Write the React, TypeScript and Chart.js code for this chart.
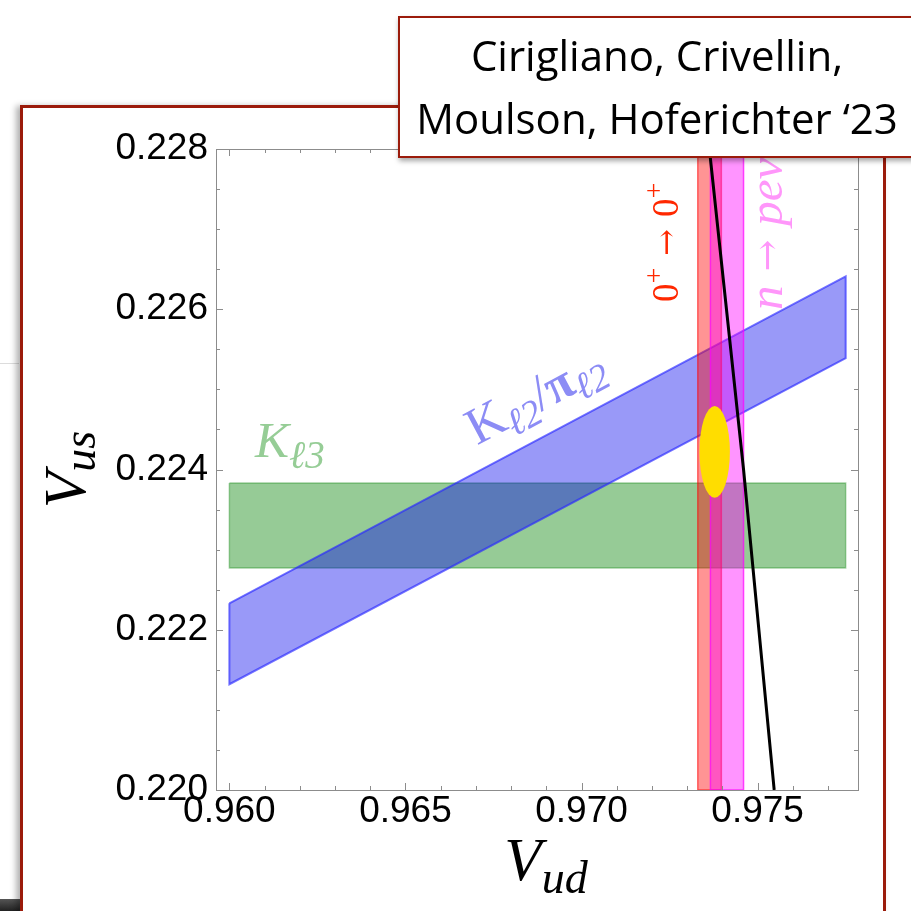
import React, { useEffect, useRef } from "react";
import { Chart, registerables } from "chart.js";

Chart.register(...registerables);

// ---------- data ----------
const xRange = [0.95962, 0.97785];
const yRange = [0.22, 0.228];
const xTickLabels = [0.96, 0.965, 0.97, 0.975];
const yTickLabels = [0.22, 0.222, 0.224, 0.226, 0.228];
const xMinorTicks = [0.96, 0.961, 0.962, 0.963, 0.964, 0.965, 0.966, 0.967, 0.968, 0.969, 0.97, 0.971, 0.972, 0.973, 0.974, 0.975, 0.976, 0.977];
const yMinorTicks = [0.22, 0.2205, 0.221, 0.2215, 0.222, 0.2225, 0.223, 0.2235, 0.224, 0.2245, 0.225, 0.2255, 0.226, 0.2265, 0.227, 0.2275, 0.228];

// K_l3 band (horizontal)
const kl3Vud = [0.96, 0.9775, 0.9775, 0.96, 0.96];
const kl3Vus = [0.22383, 0.22383, 0.22277, 0.22277, 0.22383];
// K_l2 / pi_l2 band (slanted)
const kl2Vud = [0.96, 0.9775, 0.9775, 0.96, 0.96];
const kl2Vus = [0.22233, 0.22641, 0.22539, 0.22132, 0.22233];
// 0+ -> 0+ band (vertical)
const superVud = [0.9733, 0.97397, 0.97397, 0.9733, 0.9733];
const superVus = [0.22, 0.22, 0.228, 0.228, 0.22];
// neutron decay band (vertical)
const neutronVud = [0.97366, 0.9746, 0.9746, 0.97366, 0.97366];
const neutronVus = [0.22, 0.22, 0.228, 0.228, 0.22];
// unitarity line
const unitVud = [0.97363, 0.9746, 0.97547];
const unitVus = [0.228, 0.224, 0.22];
// fit ellipse
const ellipseCenter = [0.97378, 0.22422];
const ellipseRadii = [0.000432, 0.000574];

// label anchors (data coords)
const labelKl3At = [0.96073, 0.22415];
const labelKl2At = [0.96703, 0.2243];
const label00At = [0.97275, 0.22609];
const labelNAt = [0.9757, 0.22599];

const pts = (xs: number[], ys: number[]) => xs.map((x, i) => ({ x, y: ys[i] }));

const SERIF = "'Liberation Serif', 'DejaVu Serif', serif";
const ARROWF = "'DejaVu Serif', 'Liberation Serif', serif";
const SANS = "'Liberation Sans', Arial, sans-serif";

type Run = { text: string; font: string; dy?: number; gap?: number };

function runsWidth(ctx: CanvasRenderingContext2D, runs: Run[]) {
  let w = 0;
  for (const r of runs) {
    ctx.font = r.font;
    w += ctx.measureText(r.text).width + (r.gap || 0);
  }
  return w;
}

function drawRuns(ctx: CanvasRenderingContext2D, runs: Run[], x: number, y: number, angle: number, color: string, center = false) {
  ctx.save();
  ctx.translate(x, y);
  ctx.rotate(angle);
  ctx.fillStyle = color;
  ctx.textBaseline = "alphabetic";
  ctx.textAlign = "left";
  let cx = center ? -runsWidth(ctx, runs) / 2 : 0;
  for (const r of runs) {
    ctx.font = r.font;
    ctx.fillText(r.text, cx, r.dy || 0);
    cx += ctx.measureText(r.text).width + (r.gap || 0);
  }
  ctx.restore();
}

const near = (a: number, b: number) => Math.abs(a - b) < 1e-9;

const overlayPlugin = {
  id: "overlay",
  afterDatasetDraw(chart: any, args: any) {
    if (args.index !== 3) return;
    const ctx = chart.ctx as CanvasRenderingContext2D;
    const xs = chart.scales.x;
    const ys = chart.scales.y;
    const cx = xs.getPixelForValue(ellipseCenter[0]);
    const cy = ys.getPixelForValue(ellipseCenter[1]);
    const rx = Math.abs(xs.getPixelForValue(ellipseCenter[0] + ellipseRadii[0]) - cx);
    const ry = Math.abs(ys.getPixelForValue(ellipseCenter[1] + ellipseRadii[1]) - cy);
    ctx.save();
    ctx.fillStyle = "rgb(255,221,0)";
    ctx.beginPath();
    ctx.ellipse(cx, cy, rx, ry, 0, 0, Math.PI * 2);
    ctx.fill();
    ctx.restore();
  },
  afterDatasetsDraw(chart: any) {
    const ctx = chart.ctx as CanvasRenderingContext2D;
    const xs = chart.scales.x;
    const ys = chart.scales.y;
    const { left, right, top, bottom } = chart.chartArea;

    // frame
    ctx.save();
    ctx.strokeStyle = "#8c8c8c";
    ctx.lineWidth = 1;
    ctx.strokeRect(Math.round(left) + 0.5, Math.round(top) + 0.5, Math.round(right - left), Math.round(bottom - top));
    ctx.beginPath();
    for (const v of xMinorTicks) {
      const px = Math.round(xs.getPixelForValue(v)) + 0.5;
      const len = xTickLabels.some((t) => near(t, v)) ? 7 : 4;
      ctx.moveTo(px, bottom);
      ctx.lineTo(px, bottom - len);
      ctx.moveTo(px, top);
      ctx.lineTo(px, top + len);
    }
    for (const v of yMinorTicks) {
      const py = Math.round(ys.getPixelForValue(v)) + 0.5;
      const len = yTickLabels.some((t) => near(t, v)) ? 7 : 4;
      ctx.moveTo(left, py);
      ctx.lineTo(left + len, py);
      ctx.moveTo(right, py);
      ctx.lineTo(right - len, py);
    }
    ctx.stroke();
    ctx.restore();

    // band labels
    drawRuns(
      ctx,
      [
        { text: "K", font: `italic 51px ${SERIF}` },
        { text: "ℓ3", font: `italic 39px ${SERIF}`, dy: 11 },
      ],
      xs.getPixelForValue(labelKl3At[0]),
      ys.getPixelForValue(labelKl3At[1]),
      0,
      "rgb(150,205,150)"
    );

    const a1x = xs.getPixelForValue(kl2Vud[0]);
    const a1y = ys.getPixelForValue(kl2Vus[0]);
    const a2x = xs.getPixelForValue(kl2Vud[1]);
    const a2y = ys.getPixelForValue(kl2Vus[1]);
    const ang = Math.atan2(a2y - a1y, a2x - a1x);
    drawRuns(
      ctx,
      [
        { text: "K", font: `52px ${SERIF}` },
        { text: "ℓ2", font: `italic 38px ${SERIF}`, dy: 10 },
        { text: "/", font: `52px ${SERIF}` },
        { text: "π", font: `bold 50px ${SERIF}` },
        { text: "ℓ2", font: `italic 38px ${SERIF}`, dy: 10 },
      ],
      xs.getPixelForValue(labelKl2At[0]),
      ys.getPixelForValue(labelKl2At[1]),
      ang,
      "rgb(140,140,245)"
    );

    drawRuns(
      ctx,
      [
        { text: "0", font: `37px ${SERIF}` },
        { text: "+", font: `28px ${SERIF}`, dy: -15, gap: 12 },
        { text: "→", font: `32px ${ARROWF}`, dy: -1, gap: 12 },
        { text: "0", font: `37px ${SERIF}` },
        { text: "+", font: `28px ${SERIF}`, dy: -15 },
      ],
      xs.getPixelForValue(label00At[0]),
      ys.getPixelForValue(label00At[1]),
      -Math.PI / 2,
      "rgb(255,40,0)"
    );

    drawRuns(
      ctx,
      [
        { text: "n", font: `italic 49px ${SERIF}`, gap: 14 },
        { text: "→", font: `38px ${ARROWF}`, dy: -2, gap: 14 },
        { text: "peν", font: `italic 49px ${SERIF}` },
      ],
      xs.getPixelForValue(labelNAt[0]),
      ys.getPixelForValue(labelNAt[1]),
      -Math.PI / 2,
      "rgb(255,150,250)"
    );

    // axis titles
    const cxArea = (left + right) / 2;
    const cyArea = (top + bottom) / 2;
    drawRuns(
      ctx,
      [
        { text: "V", font: `italic 61px ${SERIF}` },
        { text: "ud", font: `italic 46px ${SERIF}`, dy: 13 },
      ],
      cxArea + 9,
      bottom + 90,
      0,
      "#000",
      true
    );
    drawRuns(
      ctx,
      [
        { text: "V", font: `italic 60px ${SERIF}` },
        { text: "us", font: `italic 46px ${SERIF}`, dy: 10 },
      ],
      left - 131,
      cyArea,
      -Math.PI / 2,
      "#000",
      true
    );
  },
};

export default function App() {
  const ref = useRef<HTMLCanvasElement | null>(null);

  useEffect(() => {
    if (!ref.current) return;
    const tickFont = { family: SANS, size: 37 };
    const chart = new Chart(ref.current, {
      type: "scatter",
      data: {
        datasets: [
          {
            label: "Kl3",
            data: pts(kl3Vud, kl3Vus),
            showLine: true,
            fill: "shape",
            backgroundColor: "rgba(0,128,0,0.41)",
            borderColor: "rgba(0,128,0,0.35)",
            borderWidth: 1.5,
            pointRadius: 0,
            order: 5,
          },
          {
            label: "Kl2/pil2",
            data: pts(kl2Vud, kl2Vus),
            showLine: true,
            fill: "shape",
            backgroundColor: "rgba(0,0,237,0.4)",
            borderColor: "rgba(40,40,255,0.65)",
            borderWidth: 2,
            pointRadius: 0,
            order: 4,
          },
          {
            label: "0+ -> 0+",
            data: pts(superVud, superVus),
            showLine: true,
            fill: "shape",
            backgroundColor: "rgba(255,0,0,0.42)",
            borderColor: "rgba(255,0,0,0.55)",
            borderWidth: 1.5,
            pointRadius: 0,
            order: 3,
          },
          {
            label: "n -> pev",
            data: pts(neutronVud, neutronVus),
            showLine: true,
            fill: "shape",
            backgroundColor: "rgba(255,0,255,0.42)",
            borderColor: "rgba(255,0,255,0.7)",
            borderWidth: 1.5,
            pointRadius: 0,
            order: 2,
          },
          {
            label: "unitarity",
            data: pts(unitVud, unitVus),
            showLine: true,
            fill: false,
            borderColor: "#000",
            borderWidth: 3,
            pointRadius: 0,
            order: 1,
          },
        ],
      },
      options: {
        animation: false,
        responsive: false,
        devicePixelRatio: 1,
        layout: { padding: { top: 149, left: 116, right: 53, bottom: 81 } },
        plugins: {
          legend: { display: false },
          tooltip: { enabled: false },
          title: { display: false },
        },
        scales: {
          x: {
            type: "linear",
            position: "bottom",
            min: xRange[0],
            max: xRange[1],
            grid: { display: false, drawTicks: false },
            border: { display: false },
            ticks: {
              font: tickFont,
              color: "#000",
              padding: 0,
              maxRotation: 0,
              autoSkip: false,
              callback: (v: any) => Number(v).toFixed(3),
            },
            afterBuildTicks: (s: any) => {
              s.ticks = xTickLabels.map((value) => ({ value }));
            },
            afterFit: (s: any) => {
              s.height = 40;
            },
          },
          y: {
            type: "linear",
            position: "left",
            min: yRange[0],
            max: yRange[1],
            grid: { display: false, drawTicks: false },
            border: { display: false },
            ticks: {
              font: tickFont,
              color: "#000",
              padding: 8,
              autoSkip: false,
              callback: (v: any) => Number(v).toFixed(3),
            },
            afterBuildTicks: (s: any) => {
              s.ticks = yTickLabels.map((value) => ({ value }));
            },
            afterFit: (s: any) => {
              s.width = 100;
            },
          },
        },
      },
      plugins: [overlayPlugin],
    } as any);
    return () => chart.destroy();
  }, []);

  const frameRed = "#9b1b0b";
  return (
    <div
      style={{
        position: "fixed",
        left: 0,
        top: 0,
        width: 911,
        height: 911,
        overflow: "hidden",
        background: "#fff",
      }}
    >
      <div style={{ position: "absolute", left: 0, top: 363, width: 19, height: 1, background: "#dcdcdc" }} />
      <div
        style={{
          position: "absolute",
          left: 0,
          top: 899,
          width: 22,
          height: 12,
          background: "linear-gradient(#555, #222)",
        }}
      />
      <div
        style={{
          position: "absolute",
          left: 20,
          top: 105,
          width: 866,
          height: 900,
          boxSizing: "border-box",
          border: `3px solid ${frameRed}`,
          background: "#fff",
          boxShadow: "-4px 1px 6px rgba(0,0,0,0.3)",
        }}
      />
      <canvas ref={ref} width={911} height={911} style={{ position: "absolute", left: 0, top: 0 }} />
      <div
        style={{
          position: "absolute",
          left: 398,
          top: 16,
          width: 540,
          height: 142,
          boxSizing: "border-box",
          border: `2px solid ${frameRed}`,
          background: "#fff",
          boxShadow: "1px 3px 5px rgba(0,0,0,0.35)",
        }}
      />
      <div
        style={{
          position: "absolute",
          left: 398,
          top: 23,
          width: 518,
          textAlign: "center",
          fontFamily: "'Open Sans', 'Noto Sans', sans-serif",
          fontSize: 42,
          lineHeight: "63px",
          color: "#000",
          whiteSpace: "pre",
        }}
      >
        {"Cirigliano, Crivellin,\nMoulson, Hoferichter ‘23"}
      </div>
    </div>
  );
}
